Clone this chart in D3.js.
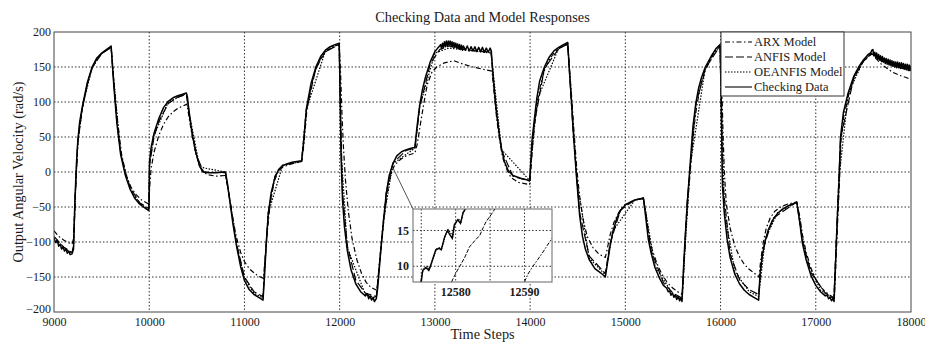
<!DOCTYPE html>
<html>
<head>
<meta charset="utf-8">
<script src="https://cdn.jsdelivr.net/npm/d3@7"></script>
<style>
  body { margin: 0; background: #fff; }
  text { font-family: "Liberation Serif", "Times New Roman", serif; fill: #1a1a1a; }
</style>
</head>
<body>
<div id="chart"></div>
<script>
// axis ticks
const xTicks = [9000, 10000, 11000, 12000, 13000, 14000, 15000, 16000, 17000, 18000];
const yTicks = [-200, -150, -100, -50, 0, 50, 100, 150, 200];
const insetXTicks = [12575, 12580, 12585, 12590];
const insetXLabels = [12580, 12590];
const insetYTicks = [10, 15];

// checking data [time step, rad/s]
const checkingData = [
  [9000,-95],[9020,-101],[9035,-98],[9050,-106],[9065,-103],[9080,-110],[9095,-107],[9110,-113],
  [9125,-110],[9140,-116],[9155,-113],[9170,-118],[9190,-117],[9205,-110],[9220,-40],[9235,10],
  [9250,45],[9270,72],[9300,95],[9350,128],[9400,150],[9450,163],[9500,170],[9550,175],[9600,180],
  [9610,160],[9630,120],[9660,70],[9700,25],[9750,-5],[9800,-25],[9850,-38],[9900,-46],[9950,-51],
  [9995,-55],[10000,-40],[10003,15],[10020,35],[10050,55],[10100,76],[10150,92],[10200,101],
  [10250,106],[10300,109],[10350,111],[10390,113],[10400,108],[10420,85],[10450,55],[10490,28],
  [10530,8],[10570,0],[10620,-1],[10700,-1],[10800,0],[10820,-15],[10850,-45],[10880,-75],
  [10920,-108],[10960,-135],[11000,-155],[11050,-168],[11100,-175],[11150,-179],[11195,-183],
  [11210,-150],[11230,-100],[11250,-60],[11280,-30],[11320,-8],[11360,4],[11400,9],[11450,12],
  [11500,14],[11550,15],[11600,16],[11620,40],[11650,90],[11700,127],[11750,150],[11800,165],
  [11850,174],[11900,179],[11950,182],[11995,184],[12005,110],[12015,20],[12030,-40],[12050,-78],
  [12080,-112],[12120,-140],[12170,-160],[12220,-171],[12270,-177],[12290,-174],[12305,-181],
  [12320,-177],[12335,-183],[12350,-179],[12365,-185],[12385,-181],
  [12400,-165],[12430,-115],[12460,-70],[12490,-30],[12520,-5],[12560,12],[12600,23],[12650,29],
  [12700,32],[12750,34],[12790,35],[12810,62],[12840,95],[12870,118],[12900,135],[12950,157],
  [13000,172],[13030,177],[13050,180],[13060,182],[13070,176],[13080,184],[13090,178],[13100,186],
  [13110,179],[13120,187],[13130,180],[13140,187],[13150,181],[13160,187],[13170,180],[13180,186],
  [13190,179],[13200,185],[13210,178],[13220,184],[13230,177],[13240,183],[13250,176],[13260,182],
  [13270,175],[13280,181],[13290,174],[13300,180],[13320,174],[13340,180],[13360,173],[13380,179],
  [13400,173],[13420,179],[13440,172],[13460,178],[13480,172],[13500,178],[13520,171],[13540,177],
  [13560,171],[13580,177],[13592,173],
  [13610,140],[13640,95],[13670,60],[13700,33],[13730,15],[13770,2],[13820,-5],
  [13900,-9],[13995,-12],[14005,10],[14020,45],[14040,70],[14070,105],[14100,130],[14150,150],
  [14200,164],[14250,173],[14300,178],[14350,182],[14395,185],[14410,150],[14430,110],[14450,65],
  [14470,25],[14490,-12],[14520,-62],[14550,-92],[14580,-110],[14620,-125],[14680,-138],
  [14740,-144],[14790,-150],[14810,-132],[14840,-105],[14870,-85],[14910,-66],[14950,-55],
  [15000,-47],[15050,-43],[15100,-40],[15190,-37],[15210,-60],[15240,-95],[15270,-115],
  [15310,-136],[15360,-152],[15400,-162],[15435,-166],[15450,-171],[15465,-170],[15480,-176],
  [15495,-173],[15510,-179],[15525,-176],[15540,-182],[15555,-178],[15570,-184],[15585,-180],
  [15595,-185],
  [15610,-140],[15630,-90],[15650,-45],[15680,10],[15710,65],[15740,98],[15770,120],[15800,135],
  [15840,150],[15900,165],[15950,176],[15995,182],[16005,120],[16020,-20],[16040,-60],[16070,-97],
  [16100,-122],[16150,-146],[16200,-160],[16250,-169],[16300,-175],[16350,-179],[16400,-183],
  [16415,-145],[16440,-118],[16470,-98],[16500,-83],[16550,-68],[16600,-59],[16650,-53],
  [16700,-49],[16750,-46],[16800,-43],[16830,-70],[16860,-102],[16900,-126],[16950,-148],
  [17000,-162],[17050,-171],[17100,-177],[17120,-176],[17135,-181],[17150,-179],[17165,-184],
  [17180,-181],[17192,-185],[17205,-140],[17225,-70],
  [17245,-10],[17260,50],[17290,85],[17340,113],[17400,137],[17450,150],[17500,160],[17550,168],
  [17575,170],[17590,174],[17600,175],[17610,166],[17620,171],[17630,163],[17640,170],[17650,161],
  [17660,168],[17670,160],[17680,166],[17690,158],[17700,165],[17710,157],[17720,163],[17730,155],
  [17740,162],[17750,154],[17760,161],[17770,153],[17780,160],[17790,152],[17800,159],[17810,151],
  [17820,158],[17830,150],[17840,157],[17850,149],[17860,157],[17870,149],[17880,156],[17890,148],
  [17900,156],[17910,148],[17920,155],[17930,147],[17940,154],[17950,146],[17960,154],[17970,145],
  [17980,153],[17990,145],[18000,152]
];

// ARX model (dash-dot)
const arxModel = [
  [9000,-84],[9050,-92],[9100,-97],[9150,-101],[9190,-103],[9205,-95],[9220,-40],[9235,5],
  [9250,40],[9270,68],[9300,92],[9350,125],[9400,148],[9450,162],[9500,169],[9550,174],[9600,178],
  [9615,155],[9640,110],[9670,70],[9710,25],[9760,-5],[9810,-22],[9860,-32],[9920,-40],[9995,-46],
  [10005,-20],[10020,5],[10050,28],[10100,52],[10150,68],[10200,79],[10250,86],[10300,91],
  [10350,94],[10395,97],[10410,85],[10440,60],[10480,32],[10520,12],[10560,0],[10620,-4],
  [10700,-6],[10800,-5],[10830,-25],[10870,-60],[10910,-90],[10960,-115],[11000,-128],
  [11050,-138],[11100,-144],[11150,-149],[11200,-152],[11215,-125],[11240,-85],[11270,-45],
  [11310,-15],[11350,0],[11400,7],[11500,12],[11600,15],[11625,40],[11655,88],[11700,123],
  [11750,147],[11800,162],[11850,171],[11900,177],[11950,180],[11995,182],[12010,140],[12025,80],
  [12040,35],[12060,-10],[12090,-55],[12130,-95],[12180,-125],[12230,-145],[12280,-158],
  [12330,-165],[12390,-169],[12405,-150],[12435,-110],[12465,-68],[12500,-30],[12530,-8],
  [12570,8],[12620,16],[12680,22],[12740,25],[12790,27],[12815,40],[12850,70],[12880,95],
  [12920,125],[12970,143],[13020,150],[13100,156],[13200,159],[13300,154],[13400,150],[13500,147],
  [13600,144],[13620,115],[13650,75],[13680,45],[13710,22],[13750,5],[13800,-8],[13880,-15],
  [13995,-18],[14008,5],[14025,38],[14050,70],[14080,102],[14110,125],[14150,145],[14200,160],
  [14250,170],[14300,176],[14350,180],[14395,182],[14415,145],[14440,100],[14465,50],[14490,5],
  [14520,-35],[14560,-70],[14600,-92],[14660,-108],[14720,-117],[14790,-122],[14810,-110],
  [14840,-90],[14880,-72],[14930,-58],[14980,-48],[15050,-43],[15100,-40],[15190,-38],
  [15215,-58],[15245,-88],[15280,-110],[15330,-130],[15380,-145],[15440,-158],[15500,-166],
  [15560,-172],[15600,-175],[15615,-135],[15635,-85],[15660,-35],[15690,15],[15720,62],
  [15750,95],[15790,122],[15840,145],[15900,163],[15950,174],[15995,179],[16010,140],[16025,60],
  [16040,0],[16060,-45],[16100,-80],[16150,-106],[16200,-121],[16250,-132],[16300,-139],
  [16350,-144],[16405,-150],[16420,-128],[16450,-100],[16480,-80],[16520,-66],[16570,-56],
  [16630,-50],[16700,-46],[16800,-43],[16830,-62],[16860,-90],[16900,-115],[16950,-138],
  [17000,-153],[17050,-164],[17100,-171],[17150,-176],[17195,-180],[17210,-135],[17230,-70],
  [17250,-10],[17265,45],[17295,80],[17345,110],[17400,133],[17450,148],[17500,158],[17550,165],
  [17590,170],[17620,164],[17680,155],[17750,148],[17800,143],[17850,140],[17900,137],
  [17950,135],[18000,132]
];

// ANFIS model (dashed)
const anfisModel = [
  [9000,-92],[9100,-107],[9190,-115],[9205,-105],[9225,-30],[9250,42],[9300,93],[9350,126],
  [9400,149],[9500,169],[9600,178],[9615,150],[9660,72],[9700,28],[9750,-2],[9800,-22],
  [9900,-44],[9995,-52],[10003,10],[10050,50],[10100,72],[10200,98],[10300,107],[10390,111],
  [10420,82],[10490,26],[10570,0],[10800,-1],[10850,-42],[10920,-104],[11000,-150],[11100,-171],
  [11195,-178],[11215,-130],[11250,-58],[11320,-6],[11400,10],[11600,15],[11650,88],[11750,148],
  [11850,172],[11995,182],[12010,80],[12030,-30],[12080,-105],[12170,-155],[12270,-173],
  [12385,-178],[12430,-112],[12490,-28],[12560,13],[12700,31],[12790,34],[12840,92],[12950,154],
  [13050,175],[13150,180],[13300,175],[13590,171],[13640,92],[13700,31],[13820,-6],[13995,-13],
  [14040,66],[14150,148],[14300,176],[14395,183],[14450,62],[14520,-58],[14620,-120],
  [14790,-145],[14840,-102],[14950,-54],[15100,-40],[15190,-38],[15270,-112],[15400,-158],
  [15500,-173],[15595,-180],[15650,-42],[15740,96],[15840,148],[15995,180],[16020,-10],
  [16100,-117],[16200,-154],[16300,-168],[16400,-175],[16440,-113],[16550,-66],[16800,-43],
  [16860,-98],[16950,-144],[17100,-173],[17190,-181],[17225,-65],[17260,48],[17400,135],
  [17500,158],[17590,169],[17700,158],[17850,150],[18000,145]
];

// OEANFIS model (dotted)
const oeanfisModel = [
  [9000,-94],[9100,-108],[9190,-116],[9205,-107],[9225,-32],[9250,43],[9300,94],[9400,149],
  [9500,169],[9600,179],[9615,152],[9700,26],[9800,-24],[9900,-45],[9995,-54],[10003,12],
  [10050,52],[10200,100],[10390,112],[10420,84],[10530,7],[10800,0],[10920,-106],[11000,-152],
  [11100,-173],[11195,-180],[11250,-59],[11400,9],[11600,15],[11650,89],[11850,173],[11995,183],
  [12015,30],[12080,-108],[12270,-175],[12385,-180],[12460,-68],[12560,12],[12790,34],
  [12840,93],[13000,170],[13150,177],[13590,170],[13700,32],[13995,-12],[14070,102],[14300,177],
  [14395,184],[14490,-10],[14620,-123],[14790,-147],[14870,-84],[15100,-40],[15190,-37],
  [15310,-134],[15500,-175],[15595,-182],[15680,8],[15840,149],[15995,181],[16040,-55],
  [16150,-142],[16300,-171],[16400,-178],[16470,-95],[16600,-58],[16800,-43],[16900,-124],
  [17050,-169],[17190,-182],[17245,-8],[17340,112],[17500,159],[17590,170],[17750,156],
  [18000,147]
];

// inset: zoom of the rise near step 12580
const insetChecking = [
  [12575.0,7.8],[12575.2,9.4],[12575.7,9.8],[12576.1,9.4],[12576.6,10.8],[12577.1,12.3],
  [12577.6,12.5],[12577.9,12.3],[12578.4,14.1],[12578.8,15.0],[12579.1,14.5],[12579.5,13.9],
  [12579.8,15.8],[12580.3,16.5],[12580.7,16.0],[12581.05,17.4],[12581.4,18.0]
];
const insetOeanfis = [
  [12574.9,7.8],[12575.3,9.6],[12575.8,10.0],[12576.2,9.6],[12576.7,11.0],[12577.2,12.4],
  [12577.7,12.6],[12578.0,12.5],[12578.5,14.3],[12578.9,15.1],[12579.3,14.6],[12579.6,14.2],
  [12579.9,15.9],[12580.4,16.6],[12580.8,16.2],[12581.1,17.6],[12581.5,18.0]
];
const insetAnfis = [
  [12579.4,7.8],[12580.0,9.0],[12580.6,10.0],[12581.3,11.2],[12582.0,12.7],[12582.8,13.6],
  [12583.5,14.3],[12584.0,15.4],[12584.4,16.2],[12585.0,17.0],[12585.7,18.0]
];
const insetArx = [
  [12590.0,7.8],[12590.5,8.9],[12591.2,9.95],[12591.9,10.9],[12592.7,12.0],[12593.3,12.9],
  [12594.0,13.9]
];

const legendItems = [
  { name: "ARX Model", dash: "5,2.5,1.5,2.5" },
  { name: "ANFIS Model", dash: "8,3" },
  { name: "OEANFIS Model", dash: "1.5,1.5" },
  { name: "Checking Data", dash: null }
];

const width = 925, height = 342;
const margin = { top: 32, right: 14, bottom: 30, left: 54 };
const plotW = width - margin.left - margin.right;
const plotH = height - margin.top - margin.bottom;

const svg = d3.select("#chart").append("svg")
  .attr("width", width)
  .attr("height", height);

svg.append("rect").attr("width", width).attr("height", height).attr("fill", "#fff");

const x = d3.scaleLinear().domain([9000, 18000]).range([margin.left, margin.left + plotW]);
const y = d3.scaleLinear().domain([-200, 200]).range([margin.top + plotH, margin.top]);

// grid
const grid = svg.append("g").attr("stroke", "#333").attr("stroke-width", 1).attr("stroke-dasharray", "1.5,2");
grid.selectAll(".gx").data(xTicks.slice(1, -1)).enter().append("line")
  .attr("x1", d => x(d)).attr("x2", d => x(d))
  .attr("y1", margin.top).attr("y2", margin.top + plotH);
grid.selectAll(".gy").data(yTicks.slice(1, -1)).enter().append("line")
  .attr("x1", margin.left).attr("x2", margin.left + plotW)
  .attr("y1", d => y(d)).attr("y2", d => y(d));

// curves
svg.append("clipPath").attr("id", "plotClip").append("rect")
  .attr("x", margin.left).attr("y", margin.top).attr("width", plotW).attr("height", plotH);

const line = d3.line().x(d => x(d[0])).y(d => y(d[1]));
const curves = svg.append("g").attr("clip-path", "url(#plotClip)").attr("fill", "none");

const series = [
  { data: arxModel, dash: legendItems[0].dash, w: 1.2 },
  { data: anfisModel, dash: legendItems[1].dash, w: 1.2 },
  { data: oeanfisModel, dash: legendItems[2].dash, w: 1.2 },
  { data: checkingData, dash: null, w: 1.5 }
];
series.forEach(s => {
  curves.append("path")
    .datum(s.data)
    .attr("stroke", "#000")
    .attr("stroke-width", s.w)
    .attr("stroke-linejoin", "round")
    .attr("stroke-dasharray", s.dash)
    .attr("d", line);
});

// axes
const xAxis = svg.append("g")
  .attr("transform", "translate(0," + (margin.top + plotH) + ")")
  .call(d3.axisBottom(x).tickValues(xTicks).tickSize(0).tickPadding(5.5).tickFormat(d3.format("d")));
const yAxis = svg.append("g")
  .attr("transform", "translate(" + margin.left + ",0)")
  .call(d3.axisLeft(y).tickValues(yTicks).tickSize(0).tickPadding(3).tickFormat(d3.format("d")));
[xAxis, yAxis].forEach(a => {
  a.select(".domain").remove();
  a.selectAll("text").style("font-size", "12px").attr("fill", "#1a1a1a");
});
// bottom label sits a touch higher so it clears the 9000 label
yAxis.selectAll("text").attr("dy", d => d === -200 ? "0.04em" : "0.25em");

svg.append("rect")
  .attr("x", margin.left).attr("y", margin.top)
  .attr("width", plotW).attr("height", plotH)
  .attr("fill", "none").attr("stroke", "#444").attr("stroke-width", 1);

// inset
const inset = { x: 413, y: 209, w: 139, h: 73 };
const ix = d3.scaleLinear().domain([12573.8, 12594]).range([inset.x, inset.x + inset.w]);
const iy = d3.scaleLinear().domain([7.8, 18]).range([inset.y + inset.h, inset.y]);

svg.append("line")
  .attr("x1", x(12563)).attr("y1", y(5))
  .attr("x2", inset.x).attr("y2", inset.y)
  .attr("stroke", "#555").attr("stroke-width", 1);

const ig = svg.append("g");
ig.append("rect")
  .attr("x", inset.x).attr("y", inset.y).attr("width", inset.w).attr("height", inset.h)
  .attr("fill", "#fff");
ig.selectAll(".igx").data(insetXTicks).enter().append("line")
  .attr("x1", d => ix(d)).attr("x2", d => ix(d))
  .attr("y1", inset.y).attr("y2", inset.y + inset.h)
  .attr("stroke", "#333").attr("stroke-dasharray", "1.5,2");
ig.selectAll(".igy").data(insetYTicks).enter().append("line")
  .attr("x1", inset.x).attr("x2", inset.x + inset.w)
  .attr("y1", d => iy(d)).attr("y2", d => iy(d))
  .attr("stroke", "#333").attr("stroke-dasharray", "1.5,2");

svg.append("clipPath").attr("id", "insetClip").append("rect")
  .attr("x", inset.x).attr("y", inset.y).attr("width", inset.w).attr("height", inset.h);
const iline = d3.line().x(d => ix(d[0])).y(d => iy(d[1]));
const icurves = ig.append("g").attr("clip-path", "url(#insetClip)").attr("fill", "none").attr("stroke", "#000");
icurves.append("path").datum(insetArx).attr("stroke-dasharray", "4,1.5,1.5,1.5").attr("d", iline);
icurves.append("path").datum(insetAnfis).attr("stroke-dasharray", "4,1.5").attr("d", iline);
icurves.append("path").datum(insetOeanfis).attr("stroke-dasharray", "1.5,1").attr("stroke-width", 1.2).attr("d", iline);
icurves.append("path").datum(insetChecking).attr("stroke-width", 1.4).attr("d", iline);

ig.append("rect")
  .attr("x", inset.x).attr("y", inset.y).attr("width", inset.w).attr("height", inset.h)
  .attr("fill", "none").attr("stroke", "#666");

ig.selectAll(".ilx").data(insetXLabels).enter().append("text")
  .attr("x", d => ix(d)).attr("y", inset.y + inset.h + 14)
  .attr("text-anchor", "middle").style("font-size", "12px").style("font-weight", "bold")
  .text(d => d);
ig.selectAll(".ily").data(insetYTicks).enter().append("text")
  .attr("x", inset.x - 4).attr("y", d => iy(d)).attr("dy", "0.35em")
  .attr("text-anchor", "end").style("font-size", "12px").style("font-weight", "bold")
  .text(d => d);

// legend
const lg = svg.append("g").attr("transform", "translate(721," + margin.top + ")");
lg.append("rect").attr("width", 123).attr("height", 64)
  .attr("fill", "#fff").attr("stroke", "#333");
legendItems.forEach((d, i) => {
  const row = 10 + i * 15;
  lg.append("line")
    .attr("x1", 4).attr("x2", 31).attr("y1", row).attr("y2", row)
    .attr("stroke", "#000").attr("stroke-width", 1.1)
    .attr("stroke-dasharray", d.dash);
  lg.append("text").attr("x", 33).attr("y", row).attr("dy", "0.35em")
    .style("font-size", "12.5px").text(d.name);
});

// titles
svg.append("text")
  .attr("x", margin.left + plotW / 2).attr("y", 22)
  .attr("text-anchor", "middle").style("font-size", "14.3px")
  .text("Checking Data and Model Responses");
svg.append("text")
  .attr("x", margin.left + plotW / 2).attr("y", 339)
  .attr("text-anchor", "middle").style("font-size", "14.3px")
  .text("Time Steps");
svg.append("text")
  .attr("transform", "translate(23," + (margin.top + plotH / 2) + ") rotate(-90)")
  .attr("text-anchor", "middle").style("font-size", "14.3px")
  .text("Output Angular Velocity (rad/s)");
</script>
</body>
</html>
